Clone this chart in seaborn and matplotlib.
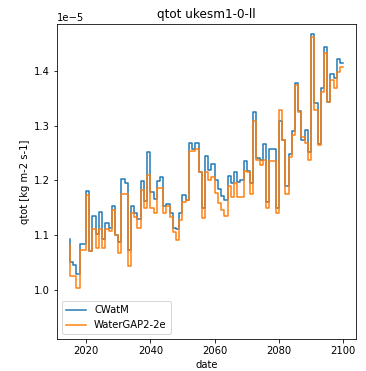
import numpy as np
import pandas as pd
import matplotlib
matplotlib.use("Agg")
import matplotlib.pyplot as plt
import seaborn as sns

# yearly runoff (units of 1e-5 kg m-2 s-1)
years = list(range(2015, 2101))

cwatm = [
    1.094, 1.052, 1.046, 1.030, 1.084, 1.084, 1.181, 1.072, 1.135, 1.103,
    1.143, 1.094, 1.123, 1.114, 1.153, 1.101, 1.087, 1.202, 1.195, 1.074,
    1.153, 1.141, 1.130, 1.199, 1.163, 1.251, 1.179, 1.166, 1.199, 1.207,
    1.153, 1.157, 1.140, 1.113, 1.111, 1.140, 1.173, 1.165, 1.269, 1.258,
    1.269, 1.216, 1.149, 1.245, 1.219, 1.230, 1.201, 1.184, 1.172, 1.164,
    1.208, 1.195, 1.216, 1.198, 1.201, 1.235, 1.217, 1.196, 1.324, 1.241,
    1.237, 1.266, 1.160, 1.257, 1.257, 1.150, 1.308, 1.274, 1.189, 1.248,
    1.290, 1.377, 1.327, 1.274, 1.292, 1.252, 1.468, 1.341, 1.266, 1.369,
    1.444, 1.344, 1.394, 1.387, 1.422, 1.414,
]

watergap = [
    1.083, 1.026, 1.026, 1.003, 1.074, 1.074, 1.173, 1.072, 1.111, 1.076,
    1.111, 1.076, 1.111, 1.108, 1.146, 1.100, 1.068, 1.176, 1.176, 1.044,
    1.141, 1.133, 1.113, 1.182, 1.149, 1.210, 1.149, 1.140, 1.186, 1.186,
    1.140, 1.153, 1.133, 1.106, 1.091, 1.128, 1.161, 1.164, 1.253, 1.253,
    1.257, 1.216, 1.131, 1.216, 1.201, 1.207, 1.177, 1.158, 1.147, 1.135,
    1.189, 1.170, 1.195, 1.170, 1.170, 1.218, 1.216, 1.176, 1.308, 1.237,
    1.229, 1.237, 1.150, 1.235, 1.235, 1.140, 1.328, 1.274, 1.176, 1.243,
    1.283, 1.374, 1.325, 1.280, 1.268, 1.237, 1.462, 1.328, 1.265, 1.362,
    1.432, 1.344, 1.383, 1.368, 1.398, 1.407,
]

df = pd.DataFrame({
    "date": years,
    "CWatM": np.array(cwatm) * 1e-5,
    "WaterGAP2-2e": np.array(watergap) * 1e-5,
})

fig, ax = plt.subplots(figsize=(366 / 72, 371 / 72), dpi=72)
fig.subplots_adjust(left=0.156, right=0.973, bottom=0.086, top=0.935)

sns.lineplot(data=df, x="date", y="CWatM", label="CWatM", color="#1f77b4",
             linewidth=1.5, drawstyle="steps-pre", ax=ax)
sns.lineplot(data=df, x="date", y="WaterGAP2-2e", label="WaterGAP2-2e", color="#ff7f0e",
             linewidth=1.5, drawstyle="steps-pre", ax=ax)

ax.set_xlim(2011, 2104)
ax.set_ylim(0.9106e-5, 1.4852e-5)
ax.set_xticks([2020, 2040, 2060, 2080, 2100])
ax.set_xlabel("date")
ax.set_ylabel("qtot [kg m-2 s-1]")
ax.set_title("qtot ukesm1-0-ll")
ax.legend(loc="lower left")

fig.savefig("out.png", dpi=72)
